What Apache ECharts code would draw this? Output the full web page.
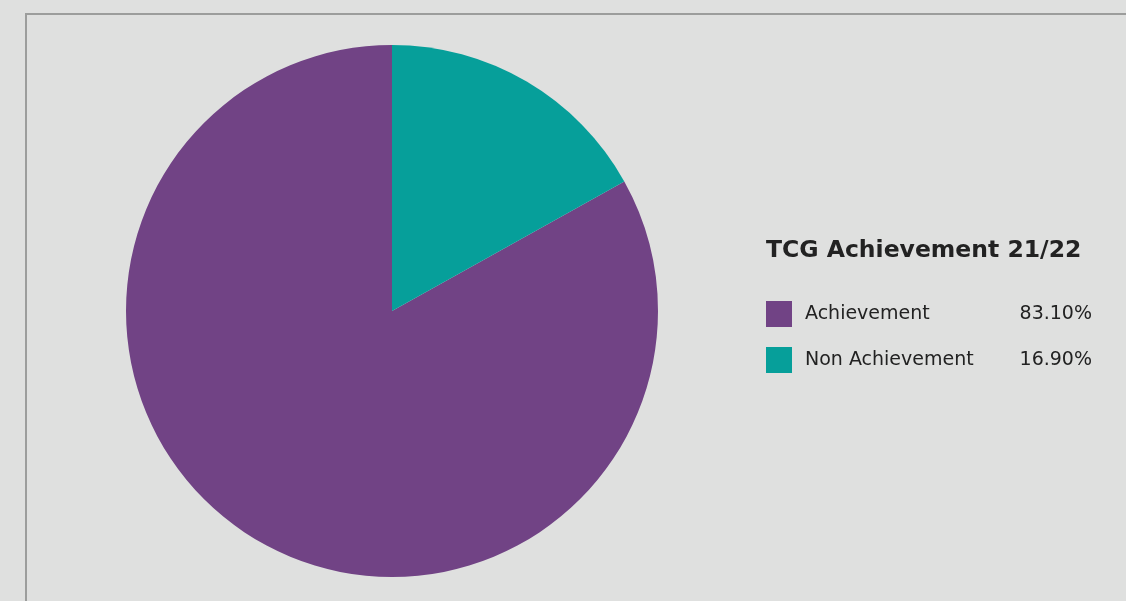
<!DOCTYPE html>
<html>
<head>
<meta charset="utf-8">
<script src="https://cdn.jsdelivr.net/npm/echarts@6/dist/echarts.min.js"></script>
<style>
html,body{margin:0;padding:0;background:#dfe0df;}
#frame{position:absolute;left:25px;top:13px;width:1101px;height:588px;border-left:2px solid #9c9d9c;border-top:2px solid #9c9d9c;box-sizing:border-box;}
#chart{position:absolute;left:0;top:0;width:1126px;height:601px;}
</style>
</head>
<body>
<div id="frame"></div>
<div id="chart"></div>
<script>
const chartTitle = "TCG Achievement 21/22";
const categories = ["Achievement", "Non Achievement"];
const values = [83.10, 16.90];
const colors = ["#714385", "#069f9a"];

const chart = echarts.init(document.getElementById('chart'), null, {renderer: 'canvas'});
const data = categories.map((c, i) => ({name: c, value: values[i], itemStyle: {color: colors[i]}}));
const fontFam = "'DejaVu Sans', sans-serif";
chart.setOption({
  backgroundColor: 'transparent',
  animation: false,
  title: {
    text: chartTitle,
    left: 761,
    top: 234,
    padding: 5,
    textStyle: {fontFamily: fontFam, fontSize: 23.5, fontWeight: 'bold', color: '#222222'}
  },
  legend: {
    orient: 'vertical',
    left: 766,
    top: 301,
    padding: 0,
    itemWidth: 26,
    itemHeight: 26,
    itemGap: 20,
    icon: 'rect',
    selectedMode: false,
    data: categories,
    formatter: function (name) {
      const i = categories.indexOf(name);
      return '{n|' + name + '}{v|' + values[i].toFixed(2) + '%}';
    },
    textStyle: {
      fontFamily: fontFam,
      fontSize: 19,
      color: '#222222',
      rich: {
        n: {fontFamily: fontFam, fontSize: 19, color: '#222222', width: 207, padding: [0, 0, 0, 8]},
        v: {fontFamily: fontFam, fontSize: 19, color: '#222222', width: 80, align: 'right'}
      }
    }
  },
  series: [{
    type: 'pie',
    center: [392, 311],
    radius: [0, 266],
    startAngle: 90,
    clockwise: false,
    label: {show: false},
    labelLine: {show: false},
    silent: true,
    itemStyle: {borderWidth: 0},
    data: data
  }]
});
</script>
</body>
</html>
